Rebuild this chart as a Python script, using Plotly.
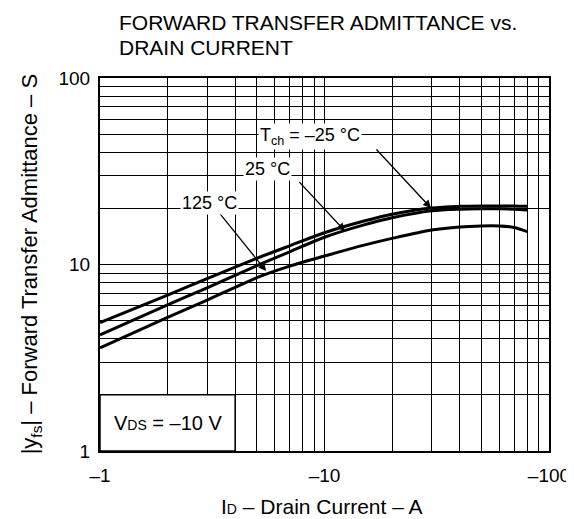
import numpy as np
import plotly.graph_objects as go

# ---- data ----
drain_current = [-1, -2, -3, -5, -7, -10, -15, -20, -30, -40, -50, -60, -70, -80]   # A
yfs_m25 = [4.88, 6.85, 8.4, 10.8, 12.6, 14.8, 17.1, 18.6, 20.1, 20.5, 20.6, 20.6, 20.6, 20.5]  # S, Tch=-25C
yfs_25 = [4.19, 6.07, 7.5, 9.85, 11.7, 14.0, 16.3, 17.8, 19.4, 19.8, 19.9, 19.9, 19.8, 19.6]    # S, Tch=25C
yfs_125 = [3.57, 5.2, 6.45, 8.5, 9.8, 11.1, 12.7, 13.8, 15.3, 15.9, 16.1, 16.1, 15.8, 15.0]   # S, Tch=125C

x_grid_vals = [1, 2, 3, 4, 5, 6, 7, 8, 9, 10, 20, 30, 40, 50, 60, 70, 80, 90, 100]
x_tick_text = ["–1"] + [""] * 8 + ["–10"] + [""] * 8 + ["–100"]
y_grid_vals = [1, 2, 3, 4, 5, 6, 7, 8, 9, 10, 20, 30, 40, 50, 60, 70, 80, 90, 100]
y_tick_text = ["1"] + [""] * 8 + ["10"] + [""] * 8 + ["100"]

FONT = "Liberation Sans, Arial, sans-serif"

id_mag = [-v for v in drain_current]

fig = go.Figure()
for ys in (yfs_m25, yfs_25, yfs_125):
    fig.add_trace(go.Scatter(x=id_mag, y=ys, mode="lines",
                             line=dict(color="black", width=3, shape="spline", smoothing=0.8),
                             showlegend=False, hoverinfo="skip"))

axis_common = dict(type="log", showgrid=True, gridcolor="black", gridwidth=1,
                   showline=True, linecolor="black", linewidth=2, mirror=True,
                   ticks="", zeroline=False,
                   tickfont=dict(family=FONT, size=19, color="black"))

fig.update_xaxes(range=[0, 2], tickmode="array", tickvals=x_grid_vals, ticktext=x_tick_text,
                 ticklabelstandoff=6, **axis_common)
fig.update_yaxes(range=[0, 2], tickmode="array", tickvals=y_grid_vals, ticktext=y_tick_text,
                 ticklabelstandoff=4, **axis_common)

# V_DS box (covers grid in lower-left corner: up to I=-4 A, |yfs|=2 S)
fig.add_shape(type="rect", xref="x domain", yref="y domain",
              x0=0, x1=np.log10(4) / 2, y0=0, y1=np.log10(2) / 2,
              fillcolor="white", line=dict(color="black", width=1.5), layer="above")

ann = []
lab_font = dict(family=FONT, size=18, color="black")
ann.append(dict(x=0.305, y=0.150, xref="x", yref="y",
                text="V<span style='font-size:14px'>DS</span> = –10 V",
                showarrow=False, font=dict(family=FONT, size=20, color="black")))

# arrows (tail -> head) in log10 coordinates
arrows = [((1.225, 1.625), (1.474, 1.303)),
          ((0.882, 1.450), (1.091, 1.180)),
          ((0.526, 1.285), (0.740, 0.965))]
for (tx, ty), (hx, hy) in arrows:
    ann.append(dict(x=hx, y=hy, ax=tx, ay=ty, xref="x", yref="y", axref="x", ayref="y",
                    text="", showarrow=True, arrowhead=2, arrowsize=1.2, arrowwidth=1.3,
                    arrowcolor="black", standoff=0, startstandoff=0))

labels = [(0.935, 1.685, "T<sub>ch</sub> = –25 °C"),
          (0.748, 1.510, "25 °C"),
          (0.486, 1.330, "125 °C")]
for lx, ly, t in labels:
    ann.append(dict(x=lx, y=ly, xref="x", yref="y", text=t, showarrow=False,
                    font=lab_font, bgcolor="white", borderpad=1))

# titles
title_font = dict(family=FONT, size=21, color="black")
ann.append(dict(x=0.038, y=1.148, xref="paper", yref="paper", xanchor="left", yanchor="middle",
                text="FORWARD TRANSFER ADMITTANCE vs.", showarrow=False, font=title_font))
ann.append(dict(x=0.038, y=1.083, xref="paper", yref="paper", xanchor="left", yanchor="middle",
                text="DRAIN CURRENT", showarrow=False, font=title_font))
ann.append(dict(x=0.495, y=-0.148, xref="paper", yref="paper", xanchor="center", yanchor="middle",
                text="I<span style='font-size:14px'>D</span> – Drain Current – A", showarrow=False,
                font=dict(family=FONT, size=21, color="black")))
ann.append(dict(x=-0.154, y=0.5, xref="paper", yref="paper", xanchor="center", yanchor="middle",
                text="|y<sub>fs</sub>| – Forward Transfer Admittance – S", textangle=-90,
                showarrow=False, font=dict(family=FONT, size=22, color="black")))

fig.update_layout(width=574, height=519, margin=dict(l=92, r=33, t=70, b=76),
                  paper_bgcolor="white", plot_bgcolor="white", annotations=ann,
                  font=dict(family=FONT, color="black"))

fig.write_html("out.html")
